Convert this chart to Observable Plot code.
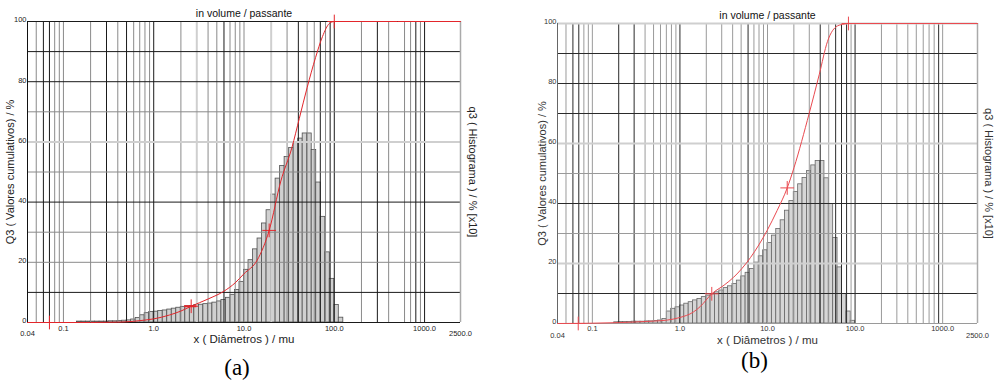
<!DOCTYPE html>
<html><head><meta charset="utf-8">
<script src="https://cdn.jsdelivr.net/npm/d3@7"></script>
<script src="https://cdn.jsdelivr.net/npm/@observablehq/plot@0.6"></script>
<style>
html,body{margin:0;padding:0;background:#fff;}
#fig{position:relative;width:1003px;height:386px;overflow:hidden;background:#fff;}
#fig svg{position:absolute;top:0;}
</style></head><body><div id="fig"></div>
<script>
// R20 bin edges (µm)
const binEdges = [0.1413,0.1585,0.1778,0.1995,0.2239,0.2512,0.2818,0.3162,0.3548,0.3981,0.4467,0.5012,0.5623,0.6310,0.7079,0.7943,0.8913,
1,1.122,1.259,1.413,1.585,1.778,1.995,2.239,2.512,2.818,3.162,3.548,3.981,4.467,5.012,5.623,6.310,7.079,7.943,8.913,
10,11.22,12.59,14.13,15.85,17.78,19.95,22.39,25.12,28.18,31.62,35.48,39.81,44.67,50.12,56.23,63.10,70.79,79.43,89.13,100,112.2,125.9];
// histogram heights (q3, left-axis units) per bin
const histA = [0.3,0.3,0.3,0.3,0.3,0.3,0.3,0.4,0.4,0.5,0.6,
0.7,1.0,1.5,2.4,3.1,3.5,3.6,3.8,4.0,4.3,4.6,4.9,5.2,5.4,5.5,5.8,5.9,6.1,6.3,6.6,7.0,7.5,8.2,9.2,10.8,13.5,17.5,
20.7,24.3,27.9,32.9,37.3,42.5,47.8,52.0,55.0,58.0,59.7,61.1,62.8,62.8,57.3,46.5,35.1,23.3,14.5,5.8,1.6];
const histB = [0,0,0.4,0.5,0.5,0.5,0.6,0.6,0.6,0.7,0.7,
0.8,1.0,1.5,4.0,4.9,5.4,6.0,6.6,7.1,7.7,8.2,8.8,9.3,9.7,10.4,11.0,11.8,12.4,13.2,14.3,15.7,16.9,18.2,
20.3,22.4,24.4,26.8,29.3,31.5,34.4,37.6,40.8,43.8,46.4,48.5,50.8,52.7,54.2,54.2,48.4,39.8,28.5,18.7,9.8,4.0,0.9,0,0];
// cumulative curves Q3
const cumXA = [0.04,0.2,0.4,0.6,0.8,1.0,1.5,2.0,2.6,4.0,6.0,8.0,10,14,19,25.6,34,41,50,62,74,88,100,2500];
const cumYA = [0,0,0.1,0.4,0.8,1.2,2.5,3.8,5.4,7.8,10.4,13.2,16.2,20.7,30.6,47,58.2,67.8,78,88,95,99.3,100,100];
const cumXB = [0.04,0.1,0.2,0.3,0.5,0.7,1.0,1.42,1.7,2.31,3.2,4.1,6.4,9.9,12.9,16.8,20.1,29.9,39,48.4,63,75,84,2500];
const cumYB = [0,0.1,0.3,0.5,0.8,1.1,2.0,3.8,5.6,9.9,12.8,15.4,22,31,37.7,45.2,52,70,83,94,99.2,99.8,100,100];
// marker crosses
const markXA = [0.07,2.6,19,100], markYA = [0,5.4,30.6,100];
const markXB = [0.069,2.31,16.8,84], markYB = [0,9.9,45.2,100];
const dashXA = [2.2,3.0], dashYA = [5.4];
// axes
const xTickValues = [0.1,1,10,100,1000];
const xTickLabels = ["0.1","1.0","10.0","100.0","1000.0"];
const xEndValues = [0.04,2500];
const xEndLabels = ["0.04","2500.0"];
const yTickValues = [0,20,40,60,80,100];
// grid lines
const vBlackA = [0.06,0.07,0.3,0.5,1,6,40,70,90,100,300,800,1000];
const vGrayA = [0.05,0.08,0.09,0.1,0.2,0.4,0.6,0.7,0.8,0.9,2,4,5,7,8,9,10,30,50,60,80,200,400,600,700,900];
const vLightA = [3,20];
const hBlackA = [0,10,40,80,90,100];
const hGrayA = [20,30,50,70];
const hLightA = [60];
const vBlackB = [0.06,0.07,0.2,0.3,1,6,40,60,70,80,100,900];
const vGrayB = [0.05,0.08,0.09,0.1,0.4,0.5,0.6,0.7,0.8,0.9,2,3,4,5,7,8,9,10,20,30,50,90,200,300,400,500,600,700,800,1000];
const hBlackB = [10,40,70,80,90];
const hGrayB = [0,30,50];
const hLightB = [20,60,100];
// texts
const titleText = "in volume / passante";
const xLabel = "x ( Diâmetros ) / mu";
const yLabelLeft = "Q3 ( Valores cumulativos) / %";
const yLabelRight = "q3 ( Histograma ) / % [x10]";
const captions = ["(a)","(b)"];

function panel(cfg) {
  const bins = cfg.hist.map((v,i)=>({x1:binEdges[i], x2:binEdges[i+1], y:v})).filter(d=>d.y>0);
  const cum = cfg.cumX.map((x,i)=>({x, y:cfg.cumY[i]}));
  const marks = cfg.markX.map((x,i)=>({x, y:cfg.markY[i]}));
  const ticks = xTickValues.map((v,i)=>({v, t:xTickLabels[i]}));
  const ends = xEndValues.map((v,i)=>({v, t:xEndLabels[i]}));
  const tc = cfg.textColor;
  const mid = {textAnchor:"middle", lineAnchor:"middle"};
  const mk = [
    Plot.rectY(bins, {x1:"x1", x2:"x2", y:"y", fill:cfg.barFill, stroke:cfg.barStroke, strokeWidth:0.8}),
    Plot.ruleX(cfg.vLight, {stroke:"#cfcfcf", strokeWidth:2}),
    Plot.ruleX(cfg.vGray, {stroke:cfg.gray, strokeWidth:1}),
    Plot.ruleX(cfg.vBlack, {stroke:cfg.black, strokeWidth:1}),
    Plot.ruleY(cfg.hLight, {stroke:"#cfcfcf", strokeWidth:2}),
    Plot.ruleY(cfg.hGray, {stroke:cfg.gray, strokeWidth:1}),
    Plot.ruleY(cfg.hBlack, {stroke:cfg.black, strokeWidth:1}),
    Plot.ruleX([xEndValues[0]], {stroke:cfg.leftFrame, strokeWidth:1}),
    Plot.ruleX([xEndValues[1]], {stroke:"#aaa", strokeWidth:1.5}),
    Plot.line(cum, {x:"x", y:"y", stroke:cfg.red, strokeWidth:1, curve:"monotone-x"}),
    Plot.dot(marks, {x:"x", y:"y", symbol:"plus", r:4.5, stroke:cfg.red, strokeWidth:1}),
    Plot.text(yTickValues, {x:xEndValues[0], y:d=>d, text:d=>String(d), textAnchor:"end", dx:-1, dy:-1.5, fontSize:7.5, fill:tc}),
    Plot.text(ticks, {x:"v", y:yTickValues[0], text:"t", dy:cfg.tickDy, fontSize:7.5, fill:tc}),
    Plot.text(ends, {x:"v", y:yTickValues[0], text:"t", dy:cfg.endDy, fontSize:7.5, fill:tc}),
    Plot.text([titleText], {frameAnchor:"top", dy:cfg.titleDy, fontSize:10.5, fill:"#111", ...mid}),
    Plot.text([xLabel], {frameAnchor:"bottom", dy:17, fontSize:11.5, fill:tc, ...mid}),
    Plot.text([yLabelLeft], {frameAnchor:"left", rotate:-90, dx:cfg.leftDx, fontSize:11, fill:tc, ...mid}),
    Plot.text([yLabelRight], {frameAnchor:"right", rotate:90, dx:cfg.rightDx, fontSize:11, fill:tc, ...mid}),
    Plot.text([cfg.caption], {frameAnchor:"bottom", dx:cfg.capDx, dy:cfg.capDy, fontSize:23, fontFamily:"Liberation Serif, Times New Roman, serif", fill:"#000", ...mid})
  ];
  if (cfg.dashX) mk.push(Plot.ruleY(cfg.dashY, {x1:cfg.dashX[0], x2:cfg.dashX[1], stroke:cfg.red, strokeWidth:2}));
  const svg = Plot.plot({
    width: cfg.width, height: 386,
    marginLeft: cfg.ml, marginRight: cfg.mr, marginTop: cfg.mt, marginBottom: cfg.mb,
    x: {type:"log", domain:[xEndValues[0], xEndValues[1]], axis:null},
    y: {domain:[0,100], axis:null},
    style: {fontFamily:"Liberation Sans, Arial, sans-serif", background:"transparent", overflow:"visible"},
    marks: mk
  });
  svg.style.left = cfg.left + "px";
  return svg;
}

const fig = document.getElementById("fig");
fig.appendChild(panel({
  left:0, width:500, ml:27, mr:40, mt:21, mb:64,
  hist:histA, cumX:cumXA, cumY:cumYA, markX:markXA, markY:markYA, dashX:dashXA, dashY:dashYA,
  vBlack:vBlackA, vGray:vGrayA, vLight:vLightA, hBlack:hBlackA, hGray:hGrayA, hLight:hLightA,
  black:"#1a1a1a", gray:"#8a8a8a", leftFrame:"#111", red:"#e3262b",
  barFill:"#d0d0d0", barStroke:"#505050", textColor:"#222", titleDy:-8,
  tickDy:6, endDy:11.5, leftDx:-17.5, rightDx:12.5, caption:captions[0], capDx:-7, capDy:45
}));
fig.appendChild(panel({
  left:500, width:503, ml:57, mr:26, mt:23, mb:63,
  hist:histB, cumX:cumXB, cumY:cumYB, markX:markXB, markY:markYB,
  vBlack:vBlackB, vGray:vGrayB, vLight:[], hBlack:hBlackB, hGray:hGrayB, hLight:hLightB,
  black:"#2a2a2a", gray:"#9a9a9a", leftFrame:"#666", red:"#ea4a50",
  barFill:"#d6d6d6", barStroke:"#666", textColor:"#333", titleDy:-7.5,
  tickDy:5, endDy:12, leftDx:-15.5, rightDx:11, caption:captions[1], capDx:-13, capDy:37
}));
</script></body></html>
